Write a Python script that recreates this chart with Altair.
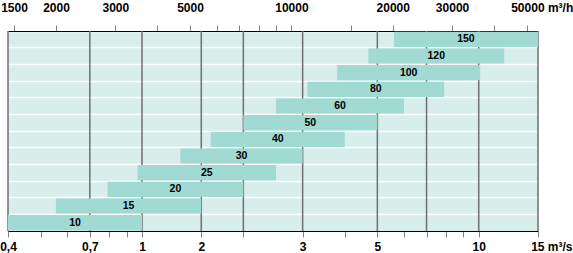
import altair as alt
import pandas as pd

# Fan sizes (rows, top to bottom) and their flow ranges in m³/s
sizes = ["150", "120", "100", "80", "60", "50", "40", "30", "25", "20", "15", "10"]
flow_lo = [5.6, 4.7, 3.8, 3.1, 2.5, 2.0, 1.6, 1.3, 0.97, 0.79, 0.555, 0.4]
flow_hi = [15.0, 11.9, 10.1, 7.9, 6.0, 5.0, 4.0, 3.0, 2.5, 2.0, 1.5, 1.0]

# vertical dark grid lines (m³/s)
grid_lines = [0.4, 0.7, 1, 1.5, 2, 3, 5, 7, 10, 15]

# bottom axis (m³/s)
bottom_ticks = [0.4, 0.5, 0.6, 0.7, 0.8, 0.9, 1, 1.5, 2, 3, 4, 5, 6, 7, 8, 9, 10, 15]
bottom_labels = {0.4: "0,4", 0.7: "0,7", 1: "1", 1.5: "2", 3: "3", 5: "5", 10: "10", 15: "15 m³/s"}

# top axis (m³/h)
top_ticks = [1500, 2000, 3000, 4000, 5000, 6000, 7000, 8000, 9000, 10000,
             15000, 20000, 30000, 40000, 50000]
top_labels = {1500: "1500", 2000: "2000", 3000: "3000", 5000: "5000", 10000: "10000",
              20000: "20000", 30000: "30000", 50000: "50000 m³/h"}

bars = pd.DataFrame({"size": sizes, "lo": flow_lo, "hi": flow_hi})
grid_df = pd.DataFrame({"g": grid_lines})

BG = "#d7eeeb"
BAR = "#a1d9d3"
FONT = "Liberation Sans"

xscale = alt.Scale(type="log", domain=[0.4, 15], nice=False)


def bottom_expr():
    parts = [f"abs(datum.value - {k}) < 1e-6 ? '{v}'" for k, v in bottom_labels.items()]
    return " : ".join(parts) + " : ''"


def top_expr():
    parts = [f"round(datum.value * 3600) == {k} ? '{v}'" for k, v in top_labels.items()]
    return " : ".join(parts) + " : ''"


yenc = alt.Y(
    "size:N", sort=sizes,
    scale=alt.Scale(paddingInner=0, paddingOuter=0),
    axis=alt.Axis(labels=False, ticks=False, domain=False, grid=True,
                  gridColor="white", gridWidth=1.5, bandPosition=0, title=None),
)

rules = alt.Chart(grid_df).mark_rule(color="#6f6f6f", strokeWidth=1.5).encode(
    x=alt.X("g:Q", scale=xscale, title=None,
            axis=alt.Axis(orient="top", values=[v / 3600 for v in top_ticks],
                          labelExpr=top_expr(), grid=False, tickSize=6,
                          labelPadding=11, domainColor="black",
                          labelAlign={"condition": {"test": "datum.value > 13", "value": "right"}, "value": "center"},
                          labelOffset={"condition": {"test": "datum.value > 13", "value": 46}, "value": 0})),
)

bar_layer = alt.Chart(bars).mark_bar(color=BAR, height={"band": 0.91}).encode(
    x=alt.X("lo:Q", scale=xscale, title=None,
            axis=alt.Axis(orient="bottom", values=bottom_ticks, labelExpr=bottom_expr(),
                          grid=False, tickSize=6, labelPadding=4, domainColor="black",
                          labelAlign={"condition": {"test": "datum.value > 13", "value": "right"}, "value": "center"},
                          labelOffset={"condition": {"test": "datum.value > 13", "value": 34}, "value": 0})),
    x2="hi:Q",
    y=yenc,
)

text_layer = alt.Chart(bars).transform_calculate(
    mid="sqrt(datum.lo * datum.hi)"
).mark_text(font=FONT, fontWeight="bold", fontSize=10.5, color="black").encode(
    x=alt.X("mid:Q", scale=xscale, axis=None),
    y=yenc,
    text="size:N",
)

chart = alt.layer(rules, bar_layer, text_layer).resolve_axis(x="independent").properties(
    width=530, height=200,
    autosize=alt.AutoSizeParams(type="none"),
    padding={"left": 8, "top": 31, "right": 35, "bottom": 22},
).configure_view(fill=BG, stroke=None).configure_axis(
    labelFont=FONT, labelFontWeight="bold", labelFontSize=12, labelColor="black",
    tickColor="#808080", domainWidth=1,
)

chart.save("out.html", embed_options={"renderer": "svg", "actions": False})
